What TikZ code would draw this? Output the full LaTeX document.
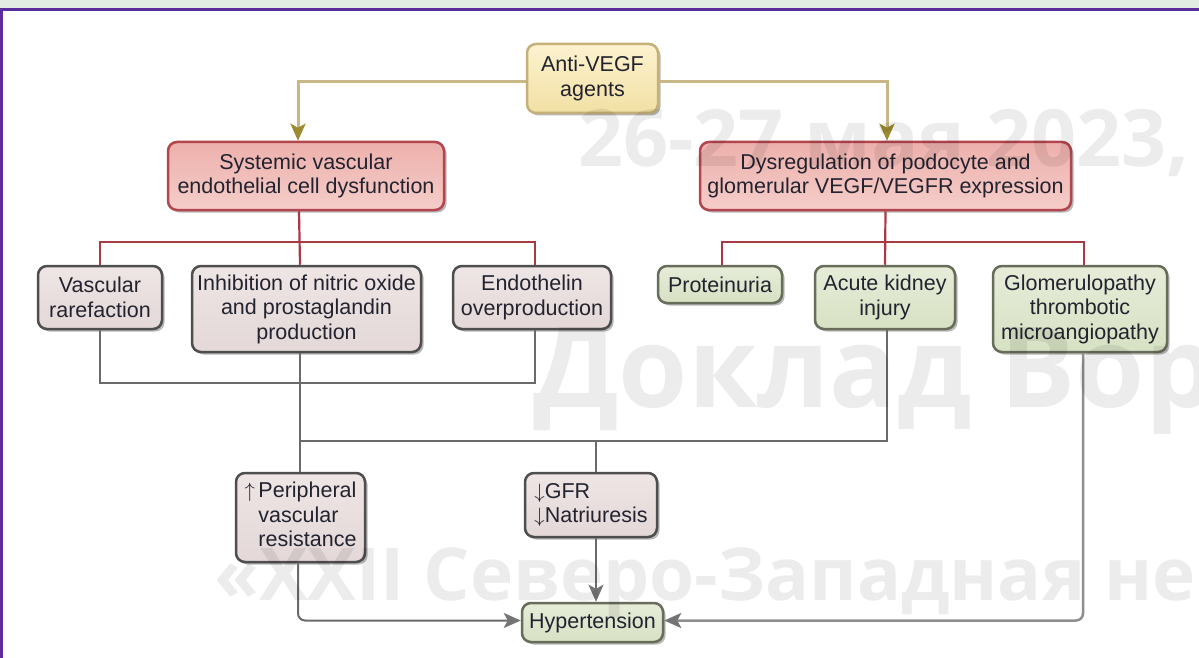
\documentclass[tikz,border=0pt]{standalone}
\usepackage{fontspec}
\setmainfont{Liberation Sans}
\newfontfamily\wmfont{Open Sans}
\usetikzlibrary{arrows.meta,shadows,calc}
\definecolor{txt}{HTML}{23232F}
\definecolor{band}{HTML}{E2ECE3}
\definecolor{purp}{HTML}{5A2C9C}
\definecolor{tanB}{HTML}{C4B078}
\definecolor{tanT}{HTML}{FCF2CF}
\definecolor{tanBo}{HTML}{F2E0A4}
\definecolor{tanL}{HTML}{C9B887}
\definecolor{tanH}{HTML}{9C8B30}
\definecolor{redB}{HTML}{B3454E}
\definecolor{redT}{HTML}{EDB0AC}
\definecolor{redBo}{HTML}{F5CDC9}
\definecolor{redL}{HTML}{A93A44}
\definecolor{pinkB}{HTML}{4E4E4E}
\definecolor{pinkT}{HTML}{EEE5E5}
\definecolor{pinkBo}{HTML}{E4D8D8}
\definecolor{grnB}{HTML}{676D59}
\definecolor{grnT}{HTML}{E6ECD9}
\definecolor{grnBo}{HTML}{D7E1C3}
\definecolor{grayL}{HTML}{6A6A6A}
\definecolor{grayLL}{HTML}{8E8E8E}
\definecolor{grayH}{HTML}{747474}
\tikzset{
  box/.style={rounded corners=9pt, line width=2.5pt, inner sep=0pt, align=center, text=txt,
    drop shadow={shadow xshift=2.5pt, shadow yshift=-2.5pt, opacity=0.28, fill=black}},
  tanbox/.style={box, draw=tanB, top color=tanT, bottom color=tanBo},
  redbox/.style={box, draw=redB, top color=redT, bottom color=redBo},
  pinkbox/.style={box, draw=pinkB, top color=pinkT, bottom color=pinkBo},
  grnbox/.style={box, draw=grnB, top color=grnT, bottom color=grnBo},
  tanarrow/.style={draw=tanL, line width=3pt, -{Stealth[length=17pt,width=15pt,inset=4pt,color=tanH]}},
  redline/.style={draw=redL, line width=2.2pt},
  grayline/.style={draw=grayL, line width=2pt},
  grayarrow/.style={draw=grayL, line width=2pt, rounded corners=7pt, -{Stealth[length=17pt,width=15pt,inset=4pt,color=grayH]}},
  wm/.style={anchor=base west, inner sep=0pt, text=black, text opacity=0.075}
}
\begin{document}
\begin{tikzpicture}[x=1pt,y=-1pt, font=\fontsize{21.5}{24.5}\selectfont]
\useasboundingbox (0,0) rectangle (1199,658);
\clip (0,0) rectangle (1199,658);
\fill[white] (0,0) rectangle (1199,658);
\fill[band] (0,0) rectangle (1199,9);
\draw[purp, line width=2.5pt] (0,9.5) -- (1199,9.5);
\draw[purp, line width=2.5pt] (1.5,9.5) -- (1.5,658);

% nodes
\node[tanbox, minimum width=131pt, minimum height=69pt] (anti) at (592.5,78.5) {Anti-VEGF\\agents};
\node[redbox, minimum width=276pt, minimum height=68pt] (sys) at (306,176) {Systemic vascular\\endothelial cell dysfunction};
\node[redbox, minimum width=371pt, minimum height=68pt] (dys) at (885.5,176) {Dysregulation of podocyte and\\glomerular VEGF/VEGFR expression};
\node[pinkbox, minimum width=124pt, minimum height=63pt] (vr) at (100,297.5) {Vascular\\rarefaction};
\node[pinkbox, minimum width=229pt, minimum height=86pt] (inh) at (306.5,309) {Inhibition of nitric oxide\\and prostaglandin\\production};
\node[pinkbox, minimum width=158pt, minimum height=63pt] (endo) at (532,297.5) {Endothelin\\overproduction};
\node[grnbox, minimum width=124pt, minimum height=37pt] (prot) at (720,284.5) {Proteinuria};
\node[grnbox, minimum width=140pt, minimum height=63pt] (aki) at (885,297.5) {Acute kidney\\injury};
\node[grnbox, minimum width=174pt, minimum height=86pt] (glom) at (1080,309) {Glomerulopathy\\thrombotic\\microangiopathy};
\node[pinkbox, minimum width=129pt, minimum height=89pt] (per) at (300.5,517.5)
  {\begin{tabular}{@{}l@{}l@{}}$\uparrow$\,&Peripheral\\ &vascular\\ &resistance\end{tabular}};
\node[pinkbox, minimum width=132pt, minimum height=64pt, align=left] (gfr) at (591,505)
  {$\downarrow$GFR\\$\downarrow$Natriuresis};
\node[grnbox, minimum width=141pt, minimum height=39pt] (hyp) at (592.5,622.5) {Hypertension};

% tan arrows
\draw[tanarrow] ([yshift=-3.5pt]anti.west) -| ([xshift=-8pt]sys.north);
\draw[tanarrow] ([yshift=-3.5pt]anti.east) -| ([xshift=1.5pt]dys.north);

% red connectors
\coordinate (rb) at (300,242);
\draw[redline] ([xshift=-7pt]sys.south) -- ([xshift=-6.5pt]inh.north);
\draw[redline] (vr.north) |- (rb) -| ([xshift=3pt]endo.north);
\coordinate (rb2) at (886,242);
\draw[redline] (dys.south) -- (aki.north);
\draw[redline] ([xshift=2pt]prot.north) |- (rb2) -| ([xshift=4pt]glom.north);

% gray connectors
\coordinate (gb) at (300,383);
\coordinate (gb2) at (300,441);
\draw[grayline] (vr.south) |- (gb) -| ([xshift=3pt]endo.south);
\draw[grayline] ([xshift=-6.5pt]inh.south) -- ([xshift=-0.5pt]per.north);
\draw[grayline] (gb2) -| ([xshift=2pt]aki.south);
\coordinate (gfrin) at ([xshift=5pt]gfr.north);
\draw[grayline] (gfrin) -- (gfrin |- gb2);
\draw[grayarrow] ([xshift=5pt]gfr.south) -- ([xshift=3.5pt]hyp.north);
\draw[grayarrow] ([xshift=-2.5pt]per.south) |- ([yshift=2pt]hyp.west);
\draw[grayarrow, draw=grayLL, line width=2.5pt] ([xshift=3pt]glom.south) |- ([yshift=2pt]hyp.east);

% watermark
\node[wm, font=\wmfont\bfseries\fontsize{79}{79}\selectfont] (wm1) at (578,166) {26-27 мая 2023,};
\node[wm, font=\wmfont\bfseries\fontsize{112}{112}\selectfont] (wm2) at (533,407) {Доклад Вор};
\node[wm, font=\wmfont\bfseries\fontsize{73}{73}\selectfont] (wm3) at (214,600) {«XXII Северо-Западная не};
\end{tikzpicture}
\end{document}
